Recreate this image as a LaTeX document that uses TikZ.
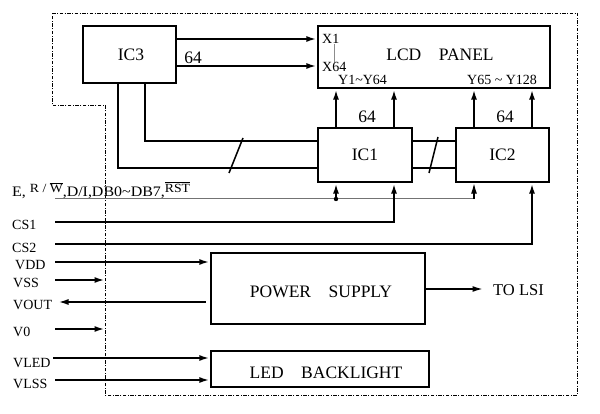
\documentclass[tikz,border=0pt]{standalone}
\usepackage{graphicx}
\usepackage{fontspec}
\setmainfont{Liberation Serif}
\usetikzlibrary{arrows.meta}
\begin{document}
\begin{tikzpicture}[x=1pt,y=-1pt,
  box/.style={draw,line width=2.4pt,inner sep=0pt},
  big/.style={font=\fontsize{17.5}{20}\selectfont},
  wire/.style={line width=2.3pt},
  hair/.style={line width=1pt, draw=black!55},
  vthin/.style={line width=1.3pt},
  arr/.style={-{Latex[length=10.5pt 0 0,width=6pt 0 0]}},
  lab/.style={font=\fontsize{14}{16}\selectfont, inner sep=0pt, anchor=west},
  border/.style={line width=0.9pt, dash pattern=on 3.5pt off 1.5pt on 1pt off 1.5pt},
  slash/.style={line width=1.5pt}]
\useasboundingbox (0,0) rectangle (600,414);

% dash-dot outline
\draw[border] (52,13) -- (577,13) -- (577,395) -- (105,395) -- (105,105) -- (52,105) -- cycle;

% boxes
\node[box, minimum width=93pt, minimum height=57pt,
      label={[big, xshift=1.5pt]center:IC3}] (IC3) at (129.5,54.5) {};
\node[box, minimum width=232pt, minimum height=62pt,
      label={[big, xshift=6pt, yshift=2.5pt]center:LCD\hspace{1em}PANEL}] (LCD) at (434,57) {};
\node[box, minimum width=94pt, minimum height=54pt,
      label={[big]center:IC1}] (IC1) at (365,155) {};
\node[box, minimum width=93pt, minimum height=54pt,
      label={[big]center:IC2}] (IC2) at (502.5,155) {};
\node[box, minimum width=214pt, minimum height=71pt,
      label={[big, xshift=3pt, yshift=-3.5pt]center:POWER\hspace{1em}SUPPLY}] (PWR) at (318,288.5) {};
\node[box, minimum width=218pt, minimum height=36pt,
      label={[big, xshift=6pt, yshift=-4pt]center:LED\hspace{1em}BACKLIGHT}] (LED) at (320,369) {};

% IC3 -> LCD
\draw[wire,arr] (IC3.east |- 0,39) -- (LCD.west |- 0,39);
\draw[wire,arr] (IC3.east |- 0,66) -- (LCD.west |- 0,66);
\node[big, inner sep=0pt] (n64a) at (193,58) {64};
\node[lab] (x1) at (322,39) {X1};
\node[lab] (x64) at (322,67) {X64};
\draw[line width=1pt, draw=black!45] (x1.south -| 334,0) -- (x64.north -| 334,0);
\node[lab] (y1) at (338,80) {Y1\textasciitilde Y64};
\node[lab] (y65) at (467,80) {Y65 \textasciitilde\ Y128};

% IC3 -> IC1 -> IC2 buses
\draw[wire] (IC3.south -| 118,0) -- (118,168) -- (IC1.west |- 0,168);
\draw[wire] (IC3.south -| 145,0) -- (145,141) -- (IC1.west |- 0,141);
\draw[wire] (IC1.east |- 0,141) -- (IC2.west |- 0,141);
\draw[wire] (IC1.east |- 0,168) -- (IC2.west |- 0,168);
\draw[slash] (243,138) -- (229,173);
\draw[slash] (438,137) -- (429,173);

% IC1/IC2 -> LCD
\draw[wire,arr] (IC1.north -| 336,0) -- (LCD.south -| 336,0);
\draw[wire,arr] (IC1.north -| 394,0) -- (LCD.south -| 394,0);
\draw[wire,arr] (IC2.north -| 474,0) -- (LCD.south -| 474,0);
\draw[wire,arr] (IC2.north -| 532,0) -- (LCD.south -| 532,0);
\node[big, inner sep=0pt] (n64b) at (367,117) {64};
\node[big, inner sep=0pt] (n64c) at (505,117) {64};

% control bus
\node[inner sep=0pt, anchor=base west, font=\fontsize{14.5}{16}\selectfont] (ctl) at (12,197)
  {\scalebox{1.1}[1]{E, \raisebox{0.7ex}{\fontsize{12.5}{14}\selectfont R / $\overline{\hbox{W}}$},D/I,DB0\textasciitilde DB7,\raisebox{0.7ex}{\fontsize{12.5}{14}\selectfont$\overline{\hbox{RST}}$}}};
\coordinate (busL) at (55,199);
\draw[hair] (busL) -- (474,199);
\draw[vthin,arr] (474,199) -- (IC2.south -| 474,0);
\draw[wire,arr] (336,199) -- (IC1.south -| 336,0);
\fill (336,199) circle (2.2pt);

% chip selects
\node[lab] (cs1) at (12,225) {CS1};
\node[lab] (cs2) at (12,248) {CS2};
\coordinate (cs1L) at (55,222);
\coordinate (cs2L) at (55,244);
\draw[wire,arr] (cs1L) -- (394,222) -- (IC1.south -| 394,0);
\draw[wire,arr] (cs2L) -- (532,244) -- (IC2.south -| 532,0);

% power
\node[lab] (vdd) at (15,265) {VDD};
\node[lab] (vss) at (13,283) {VSS};
\node[lab] (vout) at (13,305) {VOUT};
\node[lab] (v0) at (13,332) {V0};
\node[lab] (vled) at (13,363) {VLED};
\node[lab] (vlss) at (13,384) {VLSS};
\coordinate (vddL) at (55,262);
\coordinate (vssL) at (55,280);
\coordinate (vssR) at (105,280);
\coordinate (voutL) at (58,302);
\coordinate (v0L) at (55,329);
\coordinate (v0R) at (105,329);
\coordinate (vledL) at (53,358);
\coordinate (vlssL) at (55,380);
\draw[wire,arr] (vddL) -- (PWR.west |- vddL);
\draw[wire,arr] (vssL) -- (vssR);
\draw[wire,arr] ([xshift=-4pt]PWR.west |- voutL) -- (voutL);
\draw[wire,arr] (v0L) -- (v0R);
\draw[wire,arr] (vledL) -- (LED.west |- vledL);
\draw[wire,arr] (vlssL) -- (LED.west |- vlssL);

\node[inner sep=0pt, anchor=west, font=\fontsize{16.5}{18}\selectfont] (lsi) at (493,290) {TO LSI};
\coordinate (lsiT) at (483,289);
\draw[line width=1.7pt,arr] (PWR.east |- lsiT) -- (lsiT);
\end{tikzpicture}
\end{document}
